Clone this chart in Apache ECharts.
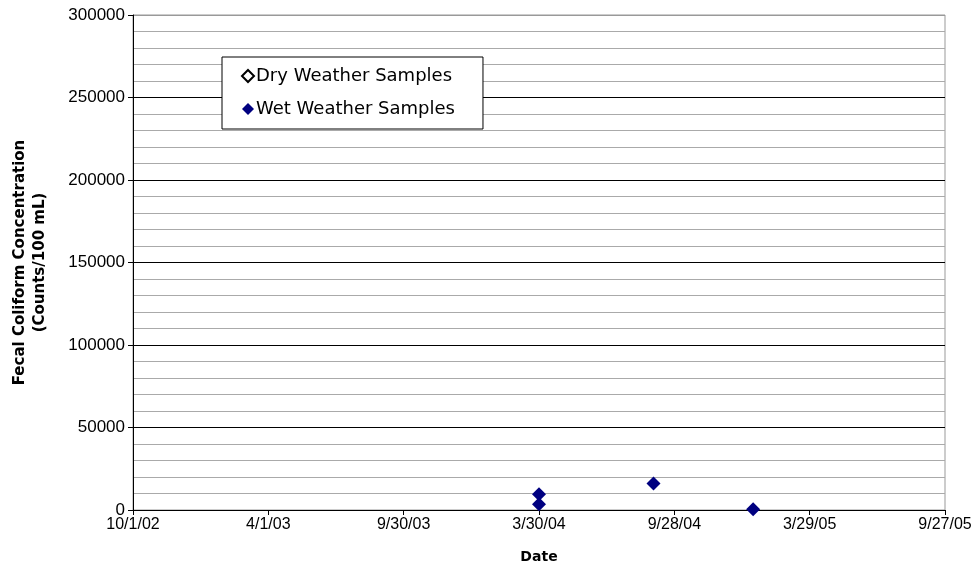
<!DOCTYPE html>
<html><head><meta charset="utf-8">
<script src="https://cdn.jsdelivr.net/npm/echarts@6/dist/echarts.min.js"></script>
<style>html,body{margin:0;padding:0;background:#fff}#c{width:974px;height:569px}</style>
</head><body><div id="c"></div>
<script>
var xTickLabels = ['10/1/02','4/1/03','9/30/03','3/30/04','9/28/04','3/29/05','9/27/05'];
var tickIntervalDays = 182;
var axisStart = '2002-10-01';
var wetDates = ['2004-03-30','2004-03-30','2004-08-31','2005-01-12'];
var wetValues = [9500, 3500, 16000, 500];
var dryDates = [];
var dryValues = [];

function dayOffset(s){
  var p = s.split('-').map(Number), q = axisStart.split('-').map(Number);
  return Math.round((Date.UTC(p[0],p[1]-1,p[2]) - Date.UTC(q[0],q[1]-1,q[2]))/86400000);
}
function pts(d,v){ return d.map(function(s,i){ return [dayOffset(s), v[i]]; }); }

var font = 'Liberation Sans, Arial, sans-serif';
var chart = echarts.init(document.getElementById('c'));
chart.setOption({
  animation:false,
  backgroundColor:'#fff',
  grid:{left:133,right:29,top:15,bottom:59,show:true,borderColor:'#999',borderWidth:1,outerBoundsMode:'none',containLabel:false},
  legend:{
    orient:'vertical', left:222, top:57,
    backgroundColor:'#fff', borderColor:'#000', borderWidth:1,
    padding:[10,28,11,19], itemGap:15, itemWidth:12, itemHeight:12,
    textStyle:{fontFamily:'DejaVu Sans, sans-serif',fontSize:18,color:'#000',padding:[0,0,0,-3]},
    data:[{name:'Dry Weather Samples',icon:'diamond'},{name:'Wet Weather Samples',icon:'diamond'}]
  },
  xAxis:{
    type:'value', min:0, max:tickIntervalDays*(xTickLabels.length-1), interval:tickIntervalDays,
    name:'Date', nameLocation:'middle', nameGap:40,
    nameTextStyle:{fontFamily:'DejaVu Sans, sans-serif',fontSize:14,fontWeight:'bold',color:'#000'},
    axisLine:{lineStyle:{color:'#000',width:1}},
    axisTick:{show:true,length:5,lineStyle:{color:'#000'}},
    axisLabel:{fontFamily:font,fontSize:16,color:'#000',margin:7,
      formatter:function(v){ return xTickLabels[Math.round(v/tickIntervalDays)]; }},
    splitLine:{show:false}
  },
  yAxis:{
    type:'value', min:0, max:300000, interval:50000,
    name:'Fecal Coliform Concentration\n(Counts/100 mL)', nameLocation:'middle', nameGap:83,
    nameTextStyle:{fontFamily:'DejaVu Sans, sans-serif',fontSize:15,fontWeight:'bold',color:'#000',lineHeight:20},
    axisLine:{show:true,lineStyle:{color:'#000',width:1}},
    axisTick:{show:true,length:5,lineStyle:{color:'#000'}},
    axisLabel:{fontFamily:font,fontSize:17,color:'#000',margin:8,formatter:function(v){return String(v);}},
    splitLine:{show:true,lineStyle:{color:['#000','#000','#000','#000','#000','#000','#999'],width:1}},
    minorTick:{show:false,splitNumber:5},
    minorSplitLine:{show:true,lineStyle:{color:'#aaa',width:1}}
  },
  series:[
    {name:'Dry Weather Samples',type:'scatter',symbol:'diamond',symbolSize:14,
     itemStyle:{color:'#fff',borderColor:'#000',borderWidth:1,opacity:1},data:pts(dryDates,dryValues)},
    {name:'Wet Weather Samples',type:'scatter',symbol:'diamond',symbolSize:14,
     itemStyle:{color:'#000080',opacity:1},data:pts(wetDates,wetValues)}
  ]
});
</script></body></html>
